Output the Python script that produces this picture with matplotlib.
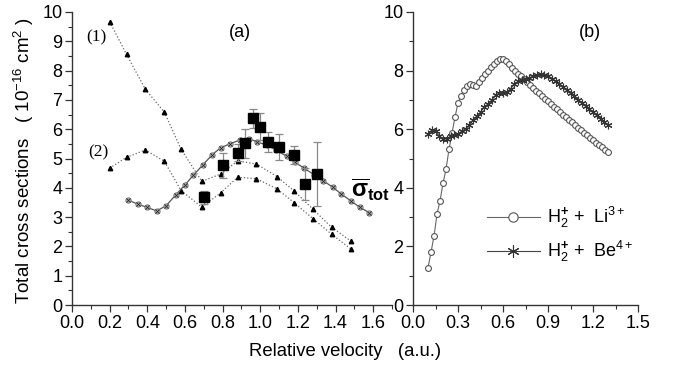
import matplotlib
matplotlib.use("Agg")
import matplotlib.pyplot as plt
from matplotlib.ticker import MultipleLocator

plt.rcParams['font.family'] = ['Liberation Sans', 'DejaVu Sans']
plt.rcParams['mathtext.fontset'] = 'custom'
plt.rcParams['mathtext.rm'] = 'Liberation Sans'
plt.rcParams['mathtext.it'] = 'Liberation Sans:italic'
plt.rcParams['mathtext.bf'] = 'Liberation Sans:bold'

# ---------------- Panel (a) data ----------------
v_tri = [0.20, 0.29, 0.39, 0.49, 0.58, 0.69, 0.79, 0.88, 0.98, 1.09, 1.18, 1.28, 1.38, 1.48]
curve1 = [9.67, 8.55, 7.36, 6.59, 5.31, 4.22, 4.47, 4.92, 4.81, 4.38, 3.89, 3.27, 2.65, 2.19]
curve2 = [4.67, 5.04, 5.29, 4.91, 3.90, 3.34, 3.83, 4.36, 4.31, 3.96, 3.49, 2.95, 2.41, 1.92]

v_tot = [0.30, 0.35, 0.40, 0.45, 0.50, 0.55, 0.60, 0.645, 0.695, 0.745, 0.79, 0.84,
         0.89, 0.94, 0.985, 1.035, 1.085, 1.14, 1.185, 1.235, 1.285, 1.335, 1.385,
         1.43, 1.48, 1.53, 1.58]
sigma_tot = [3.58, 3.44, 3.33, 3.21, 3.39, 3.75, 4.10, 4.43, 4.78, 5.13, 5.37, 5.50,
             5.63, 5.68, 5.56, 5.46, 5.28, 5.08, 4.87, 4.66, 4.45, 4.24, 4.02,
             3.79, 3.56, 3.33, 3.15]

v_exp = [0.70, 0.80, 0.88, 0.92, 0.96, 1.00, 1.04, 1.10, 1.18, 1.24, 1.30]
sig_exp = [3.68, 4.77, 5.20, 5.52, 6.37, 6.09, 5.55, 5.40, 5.12, 4.13, 4.47]
err_exp = [0.22, 0.43, 0.30, 0.50, 0.32, 0.47, 0.34, 0.45, 0.32, 0.53, 1.08]

# ---------------- Panel (b) data ----------------
v_li = [0.10, 0.12, 0.14, 0.16, 0.18, 0.20, 0.22, 0.24, 0.26, 0.28, 0.30, 0.32, 0.34,
        0.36, 0.38, 0.40, 0.42, 0.44, 0.46, 0.48, 0.50, 0.52, 0.54, 0.56, 0.58, 0.60,
        0.62, 0.64, 0.66, 0.68, 0.70, 0.72, 0.74, 0.76, 0.78, 0.80, 0.82, 0.84, 0.86,
        0.88, 0.90, 0.92, 0.94, 0.96, 0.98, 1.00, 1.02, 1.04, 1.06, 1.08, 1.10, 1.12,
        1.14, 1.16, 1.18, 1.20, 1.22, 1.24, 1.26, 1.28, 1.30]
sig_li = [1.27, 1.80, 2.35, 3.10, 3.55, 4.15, 4.63, 5.31, 5.86, 6.41, 6.90, 7.14, 7.34,
          7.47, 7.53, 7.50, 7.48, 7.62, 7.75, 7.88, 8.00, 8.12, 8.23, 8.33, 8.41, 8.40,
          8.32, 8.22, 8.10, 7.98, 7.90, 7.80, 7.70, 7.60, 7.50, 7.40, 7.31, 7.22, 7.13,
          7.04, 6.95, 6.86, 6.77, 6.68, 6.59, 6.50, 6.41, 6.32, 6.23, 6.14, 6.05, 5.96,
          5.88, 5.79, 5.71, 5.63, 5.54, 5.46, 5.38, 5.29, 5.21]

v_be = [0.100, 0.125, 0.150, 0.175, 0.200, 0.225, 0.250, 0.275, 0.300, 0.325, 0.350,
        0.375, 0.400, 0.425, 0.450, 0.475, 0.500, 0.525, 0.550, 0.575, 0.600, 0.625,
        0.650, 0.675, 0.700, 0.725, 0.750, 0.775, 0.800, 0.825, 0.850, 0.875, 0.900,
        0.925, 0.950, 0.975, 1.000, 1.025, 1.050, 1.075, 1.100, 1.125, 1.150, 1.175,
        1.200, 1.225, 1.250, 1.275, 1.300]
sig_be = [5.82, 5.97, 5.93, 5.76, 5.66, 5.68, 5.76, 5.79, 5.84, 5.93, 6.02,
          6.13, 6.30, 6.45, 6.58, 6.76, 6.85, 7.00, 7.16, 7.23, 7.22, 7.26,
          7.38, 7.53, 7.63, 7.69, 7.72, 7.76, 7.80, 7.85, 7.88, 7.86, 7.80,
          7.72, 7.63, 7.53, 7.43, 7.33, 7.22, 7.12, 7.01, 6.90, 6.79, 6.68,
          6.57, 6.47, 6.36, 6.25, 6.14]

legend_labels = [r'H$_2^{\mathbf{+}}$ +  Li$^{3+}$', r'H$_2^{\mathbf{+}}$ +  Be$^{4+}$']

W, H = 677, 382
fig = plt.figure(figsize=(W / 100, H / 100), dpi=100)

def px_axes(l, r, b, t):
    return fig.add_axes([l / W, (H - b) / H, (r - l) / W, (b - t) / H])

ax = px_axes(72, 392, 305, 12)
bx = px_axes(413, 638, 305, 12)

spine_c = '#333333'
for a in (ax, bx):
    for s in ('top', 'right'):
        a.spines[s].set_visible(False)
    for s in ('left', 'bottom'):
        a.spines[s].set_color(spine_c)
        a.spines[s].set_linewidth(1.0)
    a.tick_params(which='major', direction='out', length=5, width=0.9, colors=spine_c,
                  labelsize=13, labelcolor='black', pad=2)
    a.tick_params(which='minor', direction='out', length=3, width=0.8, colors=spine_c)
    a.set_ylim(0, 10)

# ---- panel (a)
ax.set_xlim(0, 1.7)
ax.xaxis.set_major_locator(MultipleLocator(0.2))
ax.xaxis.set_minor_locator(MultipleLocator(0.1))
ax.yaxis.set_major_locator(MultipleLocator(1))
ax.yaxis.set_minor_locator(MultipleLocator(0.5))
ax.set_xticks([0.0, 0.2, 0.4, 0.6, 0.8, 1.0, 1.2, 1.4, 1.6])
ax.set_xticklabels(['0.0', '0.2', '0.4', '0.6', '0.8', '1.0', '1.2', '1.4', '1.6'])

ax.plot(v_tri, curve1, ls=':', color='#666666', lw=0.9, marker='^', ms=3.2,
        mfc='black', mec='black')
ax.plot(v_tri, curve2, ls=':', color='#666666', lw=0.9, marker='^', ms=3.2,
        mfc='black', mec='black')
ax.plot(v_tot, sigma_tot, ls='-', color='#555555', lw=0.9, marker='o', ms=3.8,
        mfc='#bbbbbb', mec='#777777', mew=0.7)
ax.plot(v_tot, sigma_tot, ls='none', marker='x', ms=2.2, mec='#222222', mew=0.6)
ax.errorbar(v_exp, sig_exp, yerr=err_exp, fmt='s', ms=6.5, mfc='black', mec='black',
            ecolor='#888888', elinewidth=0.9, capsize=3, capthick=0.9, zorder=5)

ax.text(0.89, 9.3, '(a)', fontsize=13, ha='center', va='center')
ax.text(0.13, 9.15, '(1)', fontsize=12.5, ha='center', va='center',
        family=['Liberation Serif', 'DejaVu Serif'])
ax.text(0.14, 5.2, '(2)', fontsize=12.5, ha='center', va='center',
        family=['Liberation Serif', 'DejaVu Serif'])
ax.text(1.48, 3.95, r'$\overline{\mathbf{\sigma}}_{\mathbf{tot}}$', fontsize=17,
        ha='left', va='center')

# ---- panel (b)
bx.set_xlim(0, 1.5)
bx.xaxis.set_major_locator(MultipleLocator(0.3))
bx.xaxis.set_minor_locator(MultipleLocator(0.15))
bx.yaxis.set_major_locator(MultipleLocator(2))
bx.yaxis.set_minor_locator(MultipleLocator(1))
bx.set_xticks([0.0, 0.3, 0.6, 0.9, 1.2, 1.5])
bx.set_xticklabels(['0.0', '0.3', '0.6', '0.9', '1.2', '1.5'])

bx.plot(v_li, sig_li, ls='-', color='#666666', lw=0.8, marker='o', ms=4.2,
        mfc='white', mec='#555555', mew=0.8, label=legend_labels[0])
bx.plot(v_be, sig_be, ls='-', color='#444444', lw=0.8, marker=(6, 2, 0), ms=5.5,
        mec='#333333', mew=0.8, label=legend_labels[1])
bx.text(1.18, 9.3, '(b)', fontsize=13, ha='center', va='center')

leg = bx.legend(loc='upper left', bbox_to_anchor=((480 - 413) / 225, (305 - 198) / 293),
                frameon=False, fontsize=13, handlelength=2.9, handletextpad=0.4,
                labelspacing=0.5, borderaxespad=0, markerscale=1.6)

fig.text(24 / W, 1 - 160 / H, r'Total cross sections   ( 10$^{-16}$ cm$^{2}$ )',
         rotation=90, ha='center', va='center', fontsize=13.5)
fig.text(345 / W, 1 - 352 / H, 'Relative velocity   (a.u.)', ha='center', va='center',
         fontsize=13.3)

fig.savefig('out.png', dpi=100)
